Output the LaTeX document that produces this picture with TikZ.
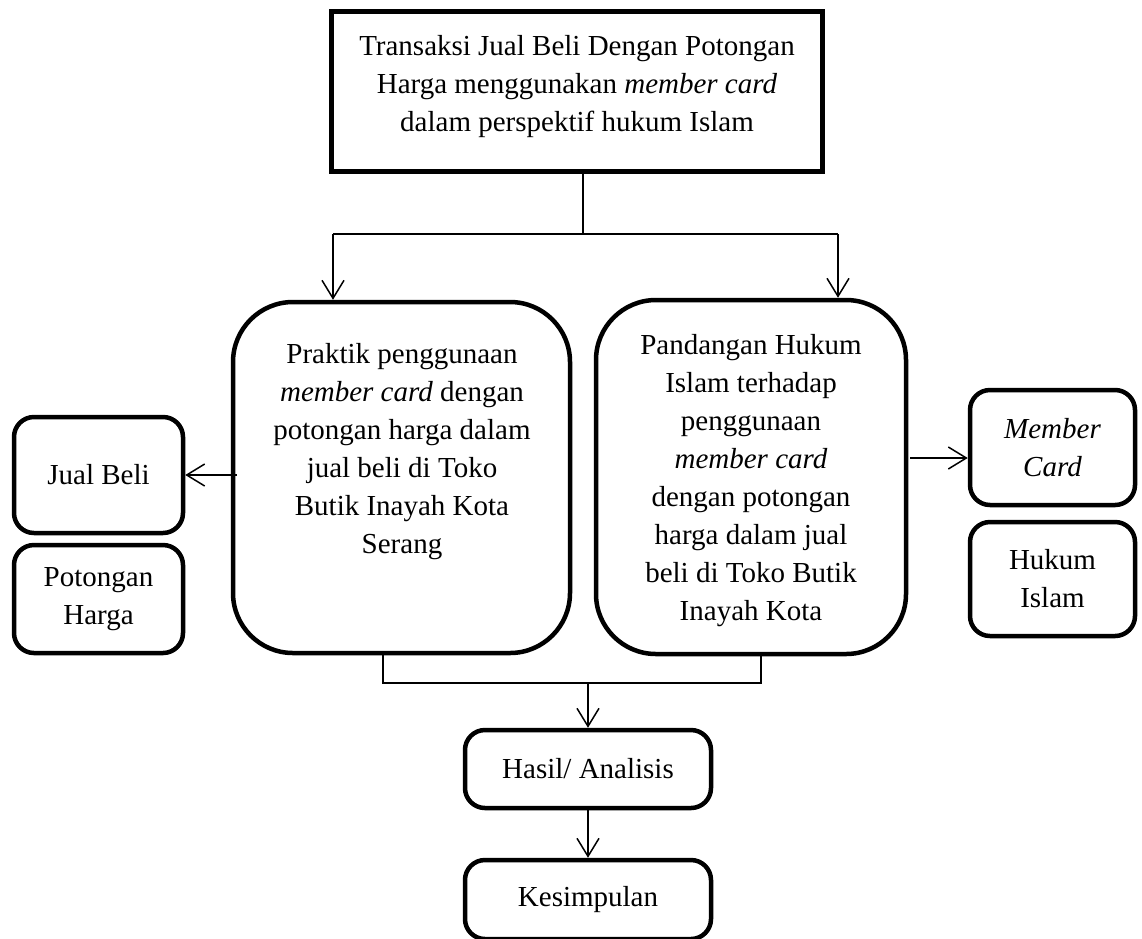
\documentclass[tikz,border=0pt]{standalone}
\usepackage{fontspec}
\setmainfont{Liberation Serif}
\usetikzlibrary{arrows.meta}
\begin{document}
\begin{tikzpicture}[x=1pt,y=-1pt,
  txt/.style={font=\fontsize{29}{38}\selectfont, align=center, inner sep=0pt},
  sqbox/.style={draw, line width=5pt, inner sep=0pt},
  bigbox/.style={draw, line width=4.5pt, rounded corners=60pt, inner sep=0pt},
  smallbox/.style={draw, line width=4.5pt, rounded corners=20pt, inner sep=0pt, font=\fontsize{29}{38}\selectfont, align=center},
  conn/.style={line width=1.5pt},
  arr/.style={conn, -{Straight Barb[length=18pt,width=22pt,line width=1.5pt]}}]
\useasboundingbox (0,0) rectangle (1142,938);

% boxes
\node[sqbox, minimum width=491pt, minimum height=160pt] (top) at (576.5,91) {};
\node[txt] (toptxt) at (577,87) {Transaksi Jual Beli Dengan Potongan\\Harga menggunakan \textit{member card}\\dalam perspektif hukum Islam};

\node[bigbox, minimum width=337pt, minimum height=351pt] (prak) at (401.5,477.5) {};
\node[txt] (praktxt) at (402,452) {Praktik penggunaan\\\textit{member card} dengan\\potongan harga dalam\\jual beli di Toko\\Butik Inayah Kota\\Serang};

\node[bigbox, minimum width=310pt, minimum height=354pt] (pand) at (751,477) {};
\node[txt] (pandtxt) at (751,481) {Pandangan Hukum\\Islam terhadap\\penggunaan\\\textit{member card}\\dengan potongan\\harga dalam jual\\beli di Toko Butik\\Inayah Kota};

\node[smallbox, minimum width=169pt, minimum height=116pt] (jb) at (98.5,475) {Jual Beli};
\node[smallbox, minimum width=169pt, minimum height=108pt] (ph) at (98.5,599) {Potongan\\Harga};
\node[smallbox, minimum width=165pt, minimum height=115pt] (mc) at (1052.5,447.5) {\textit{Member}\\\textit{Card}};
\node[smallbox, minimum width=165pt, minimum height=114pt] (hi) at (1052.5,579) {Hukum\\Islam};

\node[smallbox, minimum width=246pt, minimum height=78pt] (hasil) at (588,769) {Hasil/ Analisis};
\node[smallbox, minimum width=246pt, minimum height=79pt] (kes) at (588,899.5) {Kesimpulan};

% top connectors
\coordinate (jt) at (583,234);
\coordinate (aL) at (333,234);
\coordinate (aR) at (838,234);
\draw[conn] (top.south -| jt) -- (jt);
\draw[conn] (aL) -- (aR);
\draw[arr] (aL) -- (aL |- prak.north);
\draw[arr] (aR) -- (aR |- pand.north);

% side connectors
\coordinate (sL) at (237,475);
\coordinate (sR) at (910,458);
\draw[arr] (sL) -- (jb.east |- sL);
\draw[arr] (sR) -- (mc.west |- sR);

% bottom connectors
\coordinate (bL) at (383,683);
\coordinate (bR) at (761,683);
\coordinate (bM) at (588,683);
\draw[conn] (bL |- prak.south) -- (bL) -- (bR) -- (bR |- pand.south);
\draw[arr] (bM) -- (hasil.north);
\draw[arr] (hasil.south) -- (kes.north);
\end{tikzpicture}
\end{document}
